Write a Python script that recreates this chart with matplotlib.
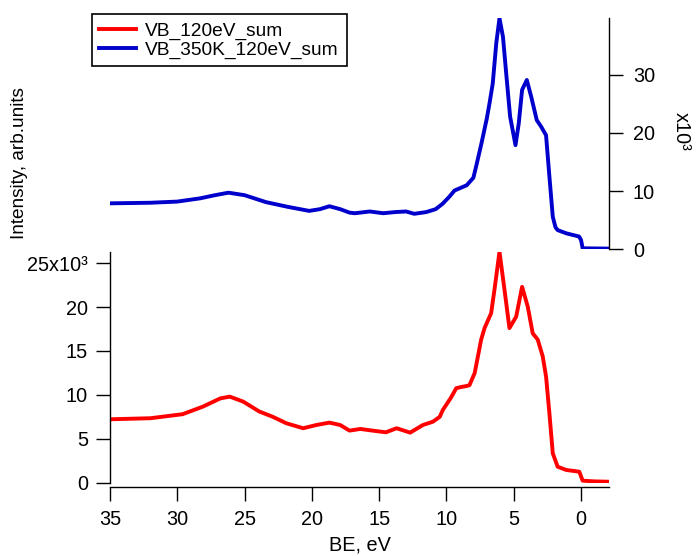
import matplotlib
matplotlib.use("Agg")
import matplotlib.pyplot as plt
from matplotlib.ticker import FixedLocator, FixedFormatter

plt.rcParams['font.family'] = ['Liberation Sans', 'DejaVu Sans']

# Binding energy (eV) and intensity (x10^3)
be_blue = [35.0, 32.0, 30.0, 28.3, 27.2, 26.2, 25.0, 23.4, 21.8, 20.2, 19.4, 18.7, 17.9,
           17.2, 16.8, 15.7, 14.7, 13.8, 13.0, 12.4, 11.5, 10.8, 10.3, 9.8, 9.4, 8.9, 8.5,
           8.0, 7.8, 7.4, 7.0, 6.8, 6.56, 6.3, 6.06, 5.8, 5.56, 5.27, 4.87, 4.63, 4.38,
           4.03, 3.7, 3.29, 2.97, 2.6, 2.35, 2.1, 1.9, 1.74, 1.1, 0.5, 0.15, 0.0, -0.12,
           -1.0, -2.1]
int_blue = [7.9, 8.0, 8.2, 8.76, 9.3, 9.73, 9.3, 8.1, 7.3, 6.6, 6.9, 7.4, 6.9,
            6.3, 6.2, 6.5, 6.2, 6.4, 6.5, 6.1, 6.4, 6.9, 7.8, 9.0, 10.1, 10.6, 11.0,
            12.3, 14.2, 18.2, 22.5, 25.1, 28.5, 35.4, 39.7, 36.5, 30.2, 22.8, 17.9, 21.6, 27.4,
            29.1, 26.2, 22.2, 21.1, 19.6, 12.5, 5.6, 3.8, 3.3, 2.75, 2.4, 2.2, 1.6, 0.17,
            0.15, 0.12]

be_red = [35.0, 32.0, 29.6, 28.1, 26.8, 26.1, 25.1, 23.9, 22.9, 21.9, 20.65, 19.66, 18.7,
          17.9, 17.2, 16.4, 15.5, 14.5, 13.7, 12.7, 11.75, 11.0, 10.5, 10.27, 9.7, 9.27,
          8.9, 8.53, 8.29, 7.9, 7.42, 7.17, 6.68, 6.43, 6.06, 5.69, 5.32, 4.82, 4.38, 3.96,
          3.59, 3.22, 2.85, 2.6, 2.35, 2.1, 1.74, 1.1, 0.13, -0.12, -1.0, -2.1]
int_red = [7.22, 7.34, 7.8, 8.66, 9.6, 9.8, 9.23, 8.1, 7.5, 6.77, 6.2, 6.57, 6.84,
           6.57, 5.93, 6.12, 5.93, 5.74, 6.2, 5.7, 6.57, 6.95, 7.5, 8.28, 9.6, 10.76,
           10.9, 11.0, 11.1, 12.5, 16.3, 17.6, 19.3, 22.0, 26.3, 22.0, 17.6, 18.9, 22.3, 20.05,
           17.0, 16.3, 14.4, 12.1, 7.9, 3.35, 1.82, 1.45, 1.25, 0.23, 0.15, 0.11]

label_red = "VB_120eV_sum"
label_blue = "VB_350K_120eV_sum"
x_ticks = [35, 30, 25, 20, 15, 10, 5, 0]
bottom_ticks = [0, 5, 10, 15, 20, 25]
bottom_tick_labels = ["0", "5", "10", "15", "20", "25x10\u00b3"]
top_ticks = [0, 10, 20, 30]

W, H = 696, 556
fig = plt.figure(figsize=(W / 100, H / 100), dpi=100)

left_px, right_px = 110, 609.3
ax_top = fig.add_axes([left_px / W, 1 - 249.3 / H, (right_px - left_px) / W, (249.3 - 18.3) / H])
ax_bot = fig.add_axes([left_px / W, 1 - 482.7 / H, (right_px - left_px) / W, (482.7 - 251.7) / H])

red = '#ff0000'
blue = '#0000cc'
lw = 2.8
FS = 14.3

l_red, = ax_bot.plot(be_red, int_red, color=red, lw=lw, label=label_red, solid_joinstyle='round')
l_blue, = ax_top.plot(be_blue, int_blue, color=blue, lw=lw, label=label_blue, solid_joinstyle='round')

for ax in (ax_top, ax_bot):
    ax.set_xlim(35, -2.1)
    ax.patch.set_visible(False)
    ax.tick_params(direction='out', length=10, width=1, labelsize=FS, pad=6)

ax_top.set_ylim(0, 39.7)
ax_bot.set_ylim(0, 26.3)

# Top panel: only right axis
for s in ['left', 'top', 'bottom']:
    ax_top.spines[s].set_visible(False)
ax_top.spines['right'].set_linewidth(1)
ax_top.yaxis.tick_right()
ax_top.yaxis.set_major_locator(FixedLocator(top_ticks))
ax_top.set_xticks([])
ax_top.tick_params(axis='y', right=True, left=False, labelright=True, labelleft=False, pad=7)

# Bottom panel: left and bottom axes
for s in ['right', 'top']:
    ax_bot.spines[s].set_visible(False)
ax_bot.spines['left'].set_linewidth(1)
ax_bot.spines['bottom'].set_linewidth(1)
ax_bot.spines['bottom'].set_position(('outward', 3.3))
ax_bot.yaxis.set_major_locator(FixedLocator(bottom_ticks))
ax_bot.yaxis.set_major_formatter(FixedFormatter(bottom_tick_labels))
ax_bot.xaxis.set_major_locator(FixedLocator(x_ticks))
ax_bot.set_xlabel("BE, eV", fontsize=FS, labelpad=5)

fig.text(20 / W, 1 - 163 / H, "Intensity, arb.units", rotation=90, fontsize=13.7,
         ha='center', va='center')
fig.text(681 / W, 1 - 131 / H, "x10\u00b3", rotation=-90, fontsize=FS,
         ha='center', va='center')

leg = fig.legend(handles=[l_red, l_blue], loc='upper left',
                 bbox_to_anchor=(91.7 / W, 1 - 14.3 / H), fontsize=13.8,
                 frameon=True, fancybox=False, framealpha=1, edgecolor='black',
                 handlelength=1.9, handletextpad=0.5, labelspacing=0.08,
                 borderpad=0.4, borderaxespad=0)
leg.get_frame().set_linewidth(1.2)

fig.savefig("out.png", dpi=100)
